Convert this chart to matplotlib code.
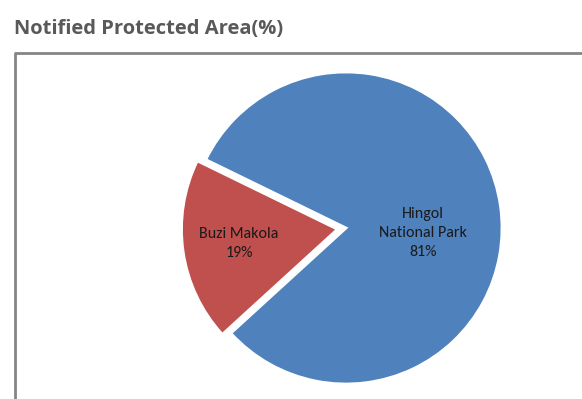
import matplotlib
matplotlib.use("Agg")
import matplotlib.pyplot as plt
from matplotlib.lines import Line2D

# Notified protected areas, share of total (%)
areas = ["Hingol\nNational Park", "Buzi Makola"]
shares = [81, 19]
colors = ["#4F81BD", "#C0504D"]
explode = [0.0, 0.055]

W, H = 582, 399
fig = plt.figure(figsize=(W / 100, H / 100), dpi=100)

# Axes spanning the whole figure; 1 data unit = pie radius in pixels
R = 156.0
cx, cy = 346.0, 228.0
ax = fig.add_axes([0, 0, 1, 1])
wedges, _ = ax.pie(shares, colors=colors, explode=explode, startangle=154,
                   counterclock=False, radius=1.0,
                   wedgeprops=dict(edgecolor="white", linewidth=2.0))
ax.set_xlim(-cx / R, (W - cx) / R)
ax.set_ylim(-(H - cy) / R, cy / R)
ax.set_aspect("auto")
ax.axis("off")

# Data labels
label_font = dict(family=["Carlito", "Liberation Sans", "DejaVu Sans"],
                  fontsize=11.5, color="#1a1a1a", ha="center", va="center",
                  linespacing=1.45)
ax.text(77 / R, -5 / R, f"{areas[0]}\n{shares[0]}%", **label_font)
ax.text(-107 / R, -15.5 / R, f"{areas[1]}\n{shares[1]}%", **label_font)

# Chart frame (open to the right and bottom)
frame_kw = dict(color="#858585", linewidth=2.0, transform=fig.transFigure,
                solid_capstyle="butt")
fig.add_artist(Line2D([15 / W, 15 / W], [0, 1 - 53 / H], **frame_kw))
fig.add_artist(Line2D([14 / W, 1], [1 - 53 / H, 1 - 53 / H], **frame_kw))

# Title
fig.text(14 / W, 1 - 34 / H, "Notified Protected Area(%)",
         family=["Open Sans", "DejaVu Sans"], fontweight="bold",
         fontsize=14.5, color="#595959", ha="left", va="baseline")

fig.savefig("out.png", dpi=100)
